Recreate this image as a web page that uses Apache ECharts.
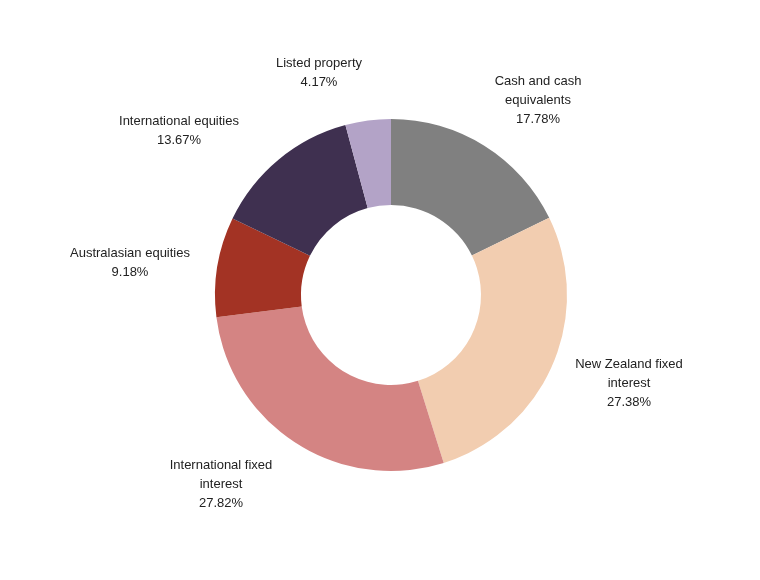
<!DOCTYPE html>
<html><head><meta charset="utf-8">
<script src="https://cdn.jsdelivr.net/npm/echarts@6/dist/echarts.min.js"></script>
<style>html,body{margin:0;background:#fff}#c{width:760px;height:580px}</style>
</head><body><div id="c"></div>
<script>
const categories = ["Cash and cash\nequivalents","New Zealand fixed\ninterest","International fixed\ninterest","Australasian equities","International equities","Listed property"];
const values = [17.78, 27.38, 27.82, 9.18, 13.67, 4.17];
const colors = ["#808080","#F2CDB0","#D48483","#A33324","#3F3050","#B3A3C7"];
const labelPos = [[538,100],[629,383],[221,484],[130,263],[179,131],[319,73]];
const chart = echarts.init(document.getElementById('c'));
chart.setOption({
  animation:false,
  series:[{
    type:'pie', center:[391,295], radius:[90,176], startAngle:90, clockwise:true,
    data: categories.map((n,i)=>({name:n,value:values[i],itemStyle:{color:colors[i]}})),
    label:{show:true,position:'outside',formatter:p=>p.name+'\n'+p.value.toFixed(2)+'%',
      color:'#222',fontSize:13,lineHeight:19,fontFamily:'Liberation Sans, Arial',align:'center',verticalAlign:'middle'},
    labelLine:{show:false},
    labelLayout:p=>({x:labelPos[p.dataIndex][0],y:labelPos[p.dataIndex][1],align:'center',verticalAlign:'middle'})
  }]
});
</script></body></html>
